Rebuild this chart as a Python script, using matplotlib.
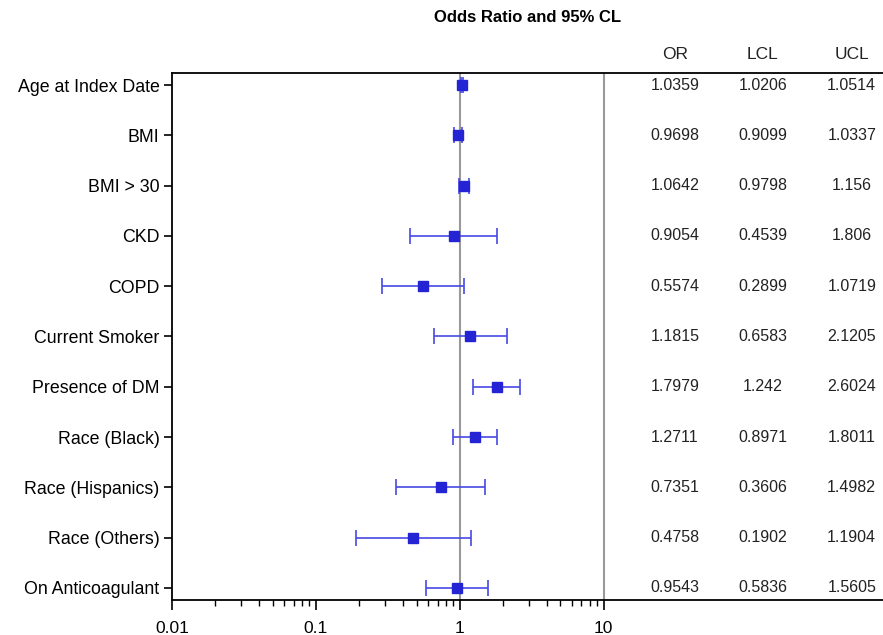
import numpy as np
import matplotlib
matplotlib.use("Agg")
import matplotlib.pyplot as plt
from matplotlib.ticker import FixedLocator, NullFormatter

plt.rcParams['font.family'] = ['Liberation Sans', 'DejaVu Sans']

# odds ratios and confidence limits
labels = ['Age at Index Date', 'BMI', 'BMI > 30', 'CKD', 'COPD',
          'Current Smoker', 'Presence of DM', 'Race (Black)',
          'Race (Hispanics)', 'Race (Others)', 'On Anticoagulant']
odds = [1.0359, 0.9698, 1.0642, 0.9054, 0.5574, 1.1815, 1.7979,
        1.2711, 0.7351, 0.4758, 0.9543]
lcl = [1.0206, 0.9099, 0.9798, 0.4539, 0.2899, 0.6583, 1.242,
       0.8971, 0.3606, 0.1902, 0.5836]
ucl = [1.0514, 1.0337, 1.156, 1.806, 1.0719, 2.1205, 2.6024,
       1.8011, 1.4982, 1.1904, 1.5605]
# how the table cells are printed
odds_txt = ['1.0359', '0.9698', '1.0642', '0.9054', '0.5574', '1.1815',
            '1.7979', '1.2711', '0.7351', '0.4758', '0.9543']
lcl_txt = ['1.0206', '0.9099', '0.9798', '0.4539', '0.2899', '0.6583',
           '1.242', '0.8971', '0.3606', '0.1902', '0.5836']
ucl_txt = ['1.0514', '1.0337', '1.156', '1.806', '1.0719', '2.1205',
           '2.6024', '1.8011', '1.4982', '1.1904', '1.5605']

fig = plt.figure(figsize=(8.83, 6.35), dpi=100)
ax = fig.add_axes([172 / 883, 35 / 635, 711 / 883, 527 / 635])

y = np.arange(len(labels))
odds = np.array(odds)
err = np.array([odds - np.array(lcl), np.array(ucl) - odds])

ax.axvline(1, color='#999999', lw=1.5, zorder=1)
ax.axvline(10, color='#999999', lw=1.5, zorder=1)

ax.errorbar(odds, y, xerr=err, fmt='none', ecolor='#4848e4', elinewidth=1.2,
            capsize=5.5, capthick=1.2, zorder=2)
ax.plot(odds, y, 's', color='#2424d4', ms=7.5, zorder=3)

ax.set_xscale('log')
ax.set_xlim(0.01, 10 ** 2.94)
ax.set_ylim(len(labels) - 1 + 0.24, -0.24)

ax.xaxis.set_major_locator(FixedLocator([0.01, 0.1, 1, 10]))
minor = [m * 10.0 ** e for e in (-2, -1, 0) for m in range(2, 10)]
ax.xaxis.set_minor_locator(FixedLocator(minor))
ax.xaxis.set_minor_formatter(NullFormatter())
ax.set_xticklabels(['0.01', '0.1', '1', '10'])
ax.tick_params(axis='x', which='major', length=7, width=1.2, labelsize=12.5, pad=8)
ax.tick_params(axis='x', which='minor', length=4, width=1.0)

ax.set_yticks(y)
ax.set_yticklabels(labels)
ax.tick_params(axis='y', length=6, width=1.2, labelsize=12.8, pad=3)

ax.spines['right'].set_visible(False)
for s in ('left', 'top', 'bottom'):
    ax.spines[s].set_linewidth(1.3)

# table on the right of the plot
cols = [(0.7075, 'OR', odds_txt), (0.831, 'LCL', lcl_txt), (0.956, 'UCL', ucl_txt)]
tr = ax.get_yaxis_transform()
for xc, head, vals in cols:
    ax.text(xc, 1.036, head, transform=ax.transAxes, ha='center', va='center',
            fontsize=12.5, color='#222222')
    for i, v in enumerate(vals):
        ax.text(xc, i, v, transform=tr, ha='center', va='center',
                fontsize=11.5, color='#222222')

fig.text((172 + 883) / 2 / 883, 1 - 17 / 635, 'Odds Ratio and 95% CL',
         ha='center', va='center', fontsize=12, fontweight='bold')

fig.savefig('out.png', dpi=100)
